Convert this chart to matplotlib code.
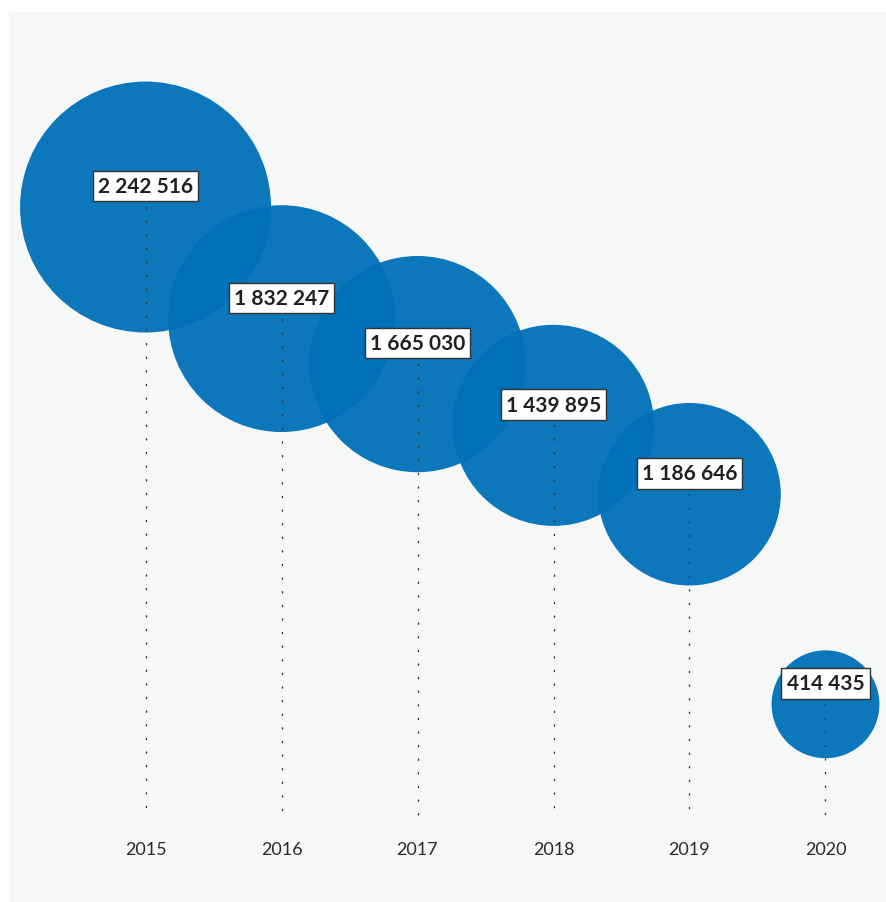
import matplotlib.pyplot as plt
import numpy as np

years = ["2015", "2016", "2017", "2018", "2019", "2020"]
values = [2242516, 1832247, 1665030, 1439895, 1186646, 414435]
labels = ["2 242 516", "1 832 247", "1 665 030", "1 439 895", "1 186 646", "414 435"]

fig = plt.figure(figsize=(8.87, 9.03), dpi=100)
ax = fig.add_axes([9 / 887, 0, 877 / 887, 890 / 903])
ax.set_facecolor("#f6f8f8")

x = np.arange(len(years))
v = np.array(values)

# bubble area proportional to value
sizes = 0.01456 * v
for i in range(len(x)):
    ax.scatter(x[i], v[i], s=sizes[i], color="#0070b8", alpha=0.95,
               edgecolors="none", zorder=2 + i)

for i in range(len(x)):
    ax.plot([x[i], x[i]], [v[i], 0], color="#333333", lw=1.0,
            linestyle=(0, (0.8, 9)), dash_capstyle="round", zorder=10)
    ax.annotate(labels[i], (x[i], v[i]), xytext=(0, 15), textcoords="offset points",
                ha="center", va="center", fontsize=15, fontweight="bold",
                family="Lato", color="#231f20", zorder=12,
                bbox=dict(boxstyle="square,pad=0.25", fc="white", ec="#333333", lw=1))
    ax.annotate(years[i], (x[i], 0), xytext=(0, -23), textcoords="offset points",
                ha="center", va="center", fontsize=13, family="Lato",
                color="#2a2a2a", zorder=12)

ax.set_xlim(-1.004, 5.445)
ax.set_ylim(-312500, 2959559)
for s in ax.spines.values():
    s.set_visible(False)
ax.set_xticks([])
ax.set_yticks([])

fig.savefig("out.png", dpi=100, facecolor="white")
